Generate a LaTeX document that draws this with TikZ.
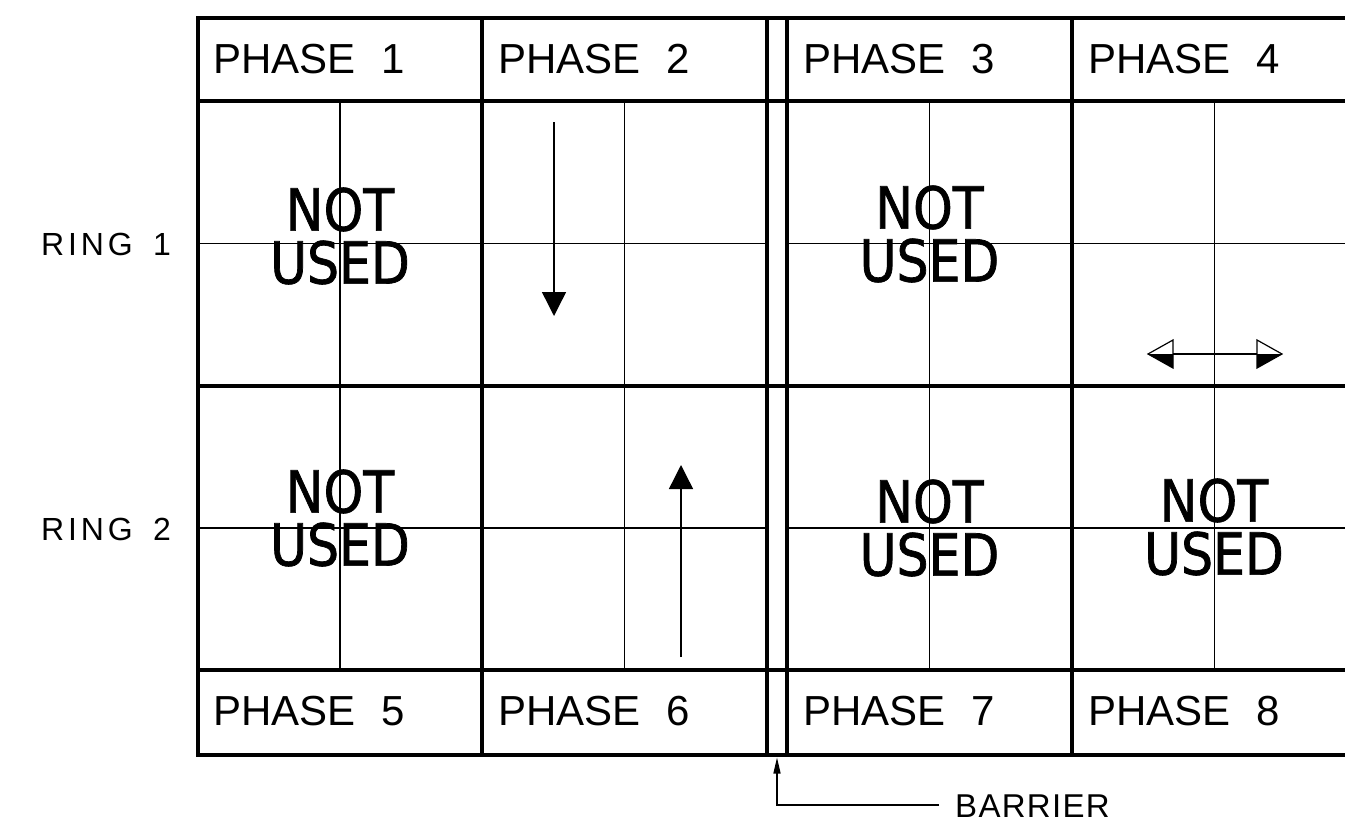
\documentclass[tikz,border=0pt]{standalone}
\usepackage{fontspec}
\setmainfont{Liberation Sans}
\newfontfamily\phasefont[WordSpace=2.2]{Liberation Sans}
\newfontfamily\ringfont[LetterSpace=12,WordSpace=1.6]{Liberation Sans}
\newfontfamily\barrierfont[LetterSpace=4]{Liberation Sans}
\newfontfamily\nufont[FakeStretch=0.87,FakeBold=1.2]{DejaVu Sans}
\usetikzlibrary{arrows.meta}
\begin{document}
\begin{tikzpicture}[x=1pt,y=-1pt,
  heavy/.style={line width=4.5pt,line cap=rect},
  light/.style={line width=1.4pt},
  phaselabel/.style={inner sep=0pt,anchor=base west,font=\phasefont\fontsize{42}{42}\selectfont},
  ringlabel/.style={inner sep=0pt,anchor=base west,font=\ringfont\fontsize{32}{32}\selectfont},
  notused/.style={inner sep=0pt,anchor=center,align=center,font=\nufont\fontsize{58}{53}\selectfont},
  flowarrow/.style={light,-{Triangle[width=24pt,length=24pt]}},
  openhead/.style={line width=1.2pt,line join=miter},
]
\useasboundingbox (0,0) rectangle (1345,825);

% thin centre lines
\draw[light] (198,243.5) -- (767,243.5) (787,243.5) -- (1345,243.5);
\draw[light] (198,528) -- (767,528) (787,528) -- (1345,528);
\draw[light] (340,101) -- (340,670);
\draw[light] (624.5,101) -- (624.5,670);
\draw[light] (929.5,101) -- (929.5,670);
\draw[light] (1214.5,101) -- (1214.5,670);

% heavy grid
\foreach \yy in {18,101,386,670,755} \draw[heavy] (198,\yy) -- (1350,\yy);
\foreach \xx in {198,482,767,787,1072} \draw[heavy] (\xx,18) -- (\xx,755);

% phase labels
\node[phaselabel] (p1) at (213,73) {PHASE 1};
\node[phaselabel] (p2) at (498,73) {PHASE 2};
\node[phaselabel] (p3) at (803,73) {PHASE 3};
\node[phaselabel] (p4) at (1088,73) {PHASE 4};
\node[phaselabel] (p5) at (213,725) {PHASE 5};
\node[phaselabel] (p6) at (498,725) {PHASE 6};
\node[phaselabel] (p7) at (803,725) {PHASE 7};
\node[phaselabel] (p8) at (1088,725) {PHASE 8};

% ring labels
\node[ringlabel] (r1) at (41,255) {RING 1};
\node[ringlabel] (r2) at (41,540) {RING 2};

% not used
\node[notused] (nu1) at (340,236) {NOT\\USED};
\node[notused] (nu3) at (929.5,234) {NOT\\USED};
\node[notused] (nu5) at (340,518) {NOT\\USED};
\node[notused] (nu7) at (929.5,528) {NOT\\USED};
\node[notused] (nu8) at (1214,527) {NOT\\USED};

% phase 2 and phase 6 arrows
\coordinate (a2s) at (554,122);
\coordinate (a2e) at (554,316);
\draw[flowarrow] (a2s) -- (a2e);
\coordinate (a6s) at (681,657);
\coordinate (a6e) at (681,465);
\draw[flowarrow] (a6s) -- (a6e);

% phase 4 double arrow
\coordinate (dl) at (1148,354);
\coordinate (dr) at (1282,354);
\coordinate (dlb) at (1173,354);
\coordinate (drb) at (1257,354);
\draw[light] (dlb) -- (drb);
\fill (dl) -- (1173,354) -- (1173,368) -- cycle;
\fill (dr) -- (1257,354) -- (1257,368) -- cycle;
\draw[openhead] (dl) -- (1173,340) -- (1173,368) -- cycle;
\draw[openhead] (dr) -- (1257,340) -- (1257,368) -- cycle;

% barrier
\node[inner sep=0pt,anchor=base west,font=\barrierfont\fontsize{33}{33}\selectfont] (bar) at (955,817) {BARRIER};
\coordinate (bbend) at (777,805);
\coordinate (btip) at (777,757.5);
\draw[light,-{Triangle[width=7pt,length=16pt]}] ([xshift=-16pt]bar.west |- bbend) -- (bbend) -- (btip);
\end{tikzpicture}
\end{document}
